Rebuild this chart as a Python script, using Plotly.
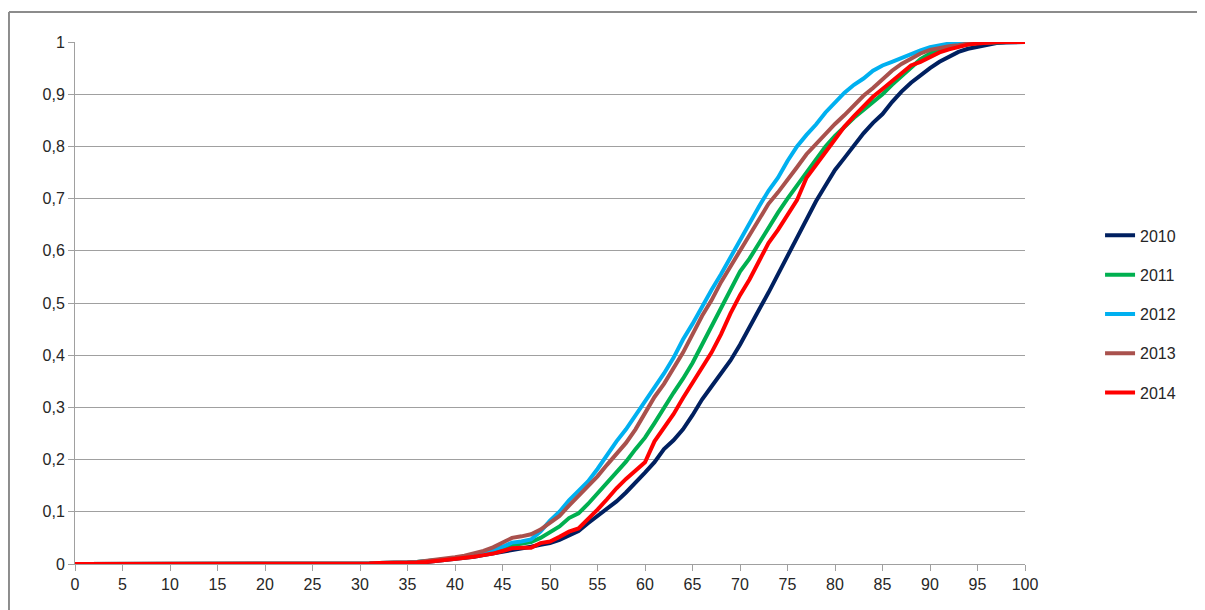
import plotly.graph_objects as go

x_values = list(range(0, 101))

y_2010 = [0, 0, 0, 0, 0, 0, 0, 0, 0, 0,
          0, 0, 0, 0, 0, 0, 0, 0, 0, 0,
          0, 0, 0, 0, 0, 0, 0, 0, 0, 0, 0,
          0.001, 0.002, 0.002, 0.002, 0.003, 0.003, 0.004, 0.006, 0.007, 0.009,
          0.011, 0.014, 0.017, 0.02, 0.024, 0.027, 0.03, 0.033, 0.037, 0.04,
          0.046, 0.055, 0.063, 0.078, 0.092, 0.105, 0.12, 0.137, 0.155, 0.175,
          0.195, 0.22, 0.237, 0.258, 0.285, 0.315, 0.34, 0.365, 0.39, 0.42,
          0.455, 0.487, 0.52, 0.555, 0.59, 0.625, 0.66, 0.695, 0.725, 0.755,
          0.778, 0.803, 0.825, 0.845, 0.862, 0.885, 0.905, 0.922, 0.937, 0.95,
          0.962, 0.972, 0.981, 0.987, 0.991, 0.995, 0.998, 0.999, 1, 1]

y_2011 = [0, 0, 0, 0, 0, 0, 0, 0, 0, 0,
          0, 0, 0, 0, 0, 0, 0, 0, 0, 0,
          0, 0, 0, 0, 0, 0, 0, 0, 0, 0, 0,
          0.001, 0.002, 0.002, 0.003, 0.003, 0.004, 0.005, 0.007, 0.009, 0.011,
          0.013, 0.017, 0.021, 0.026, 0.03, 0.036, 0.039, 0.042, 0.05, 0.06,
          0.072, 0.088, 0.097, 0.115, 0.135, 0.155, 0.175, 0.196, 0.22, 0.242,
          0.27, 0.3, 0.328, 0.355, 0.385, 0.42, 0.455, 0.49, 0.525, 0.56,
          0.585, 0.615, 0.645, 0.673, 0.7, 0.725, 0.752, 0.775, 0.8, 0.82,
          0.838, 0.855, 0.87, 0.885, 0.9, 0.918, 0.935, 0.95, 0.967, 0.978,
          0.986, 0.99, 0.993, 0.996, 0.998, 0.999, 1, 1, 1, 1]

y_2012 = [0, 0, 0, 0, 0, 0, 0, 0, 0, 0,
          0, 0, 0, 0, 0, 0, 0, 0, 0, 0,
          0, 0, 0, 0, 0, 0, 0, 0, 0, 0, 0,
          0.001, 0.002, 0.002, 0.003, 0.003, 0.004, 0.005, 0.007, 0.009, 0.011,
          0.014, 0.018, 0.022, 0.027, 0.033, 0.041, 0.043, 0.047, 0.062, 0.083,
          0.1, 0.122, 0.14, 0.158, 0.182, 0.21, 0.235, 0.258, 0.285, 0.31,
          0.34, 0.365, 0.395, 0.43, 0.46, 0.493, 0.525, 0.555, 0.588, 0.62,
          0.652, 0.685, 0.715, 0.74, 0.772, 0.8, 0.822, 0.842, 0.865, 0.885,
          0.903, 0.918, 0.93, 0.945, 0.955, 0.962, 0.97, 0.978, 0.984, 0.99,
          0.994, 0.997, 0.998, 0.999, 1, 1, 1, 1, 1, 1]

y_2013 = [0, 0, 0, 0, 0, 0, 0, 0, 0, 0,
          0, 0, 0, 0, 0, 0, 0, 0, 0, 0,
          0, 0, 0, 0, 0, 0, 0, 0, 0, 0, 0,
          0.001, 0.002, 0.002, 0.003, 0.003, 0.004, 0.006, 0.008, 0.01, 0.013,
          0.016, 0.021, 0.025, 0.032, 0.042, 0.05, 0.053, 0.057, 0.066, 0.078,
          0.092, 0.112, 0.13, 0.148, 0.168, 0.19, 0.212, 0.232, 0.258, 0.29,
          0.32, 0.345, 0.375, 0.405, 0.44, 0.475, 0.505, 0.54, 0.57, 0.6,
          0.63, 0.66, 0.69, 0.712, 0.735, 0.76, 0.785, 0.805, 0.825, 0.843,
          0.86, 0.878, 0.897, 0.912, 0.928, 0.945, 0.958, 0.968, 0.978, 0.985,
          0.989, 0.992, 0.994, 0.997, 0.998, 0.999, 1, 1, 1, 1]

y_2014 = [0, 0, 0, 0, 0, 0, 0, 0, 0, 0,
          0, 0, 0, 0, 0, 0, 0, 0, 0, 0,
          0, 0, 0, 0, 0, 0, 0, 0, 0, 0, 0,
          0.001, 0.002, 0.002, 0.002, 0.003, 0.003, 0.004, 0.006, 0.007, 0.009,
          0.011, 0.014, 0.017, 0.02, 0.025, 0.03, 0.031, 0.031, 0.04, 0.043,
          0.052, 0.062, 0.068, 0.085, 0.104, 0.124, 0.145, 0.163, 0.18, 0.195,
          0.235, 0.26, 0.287, 0.318, 0.348, 0.375, 0.405, 0.44, 0.48, 0.515,
          0.545, 0.58, 0.615, 0.64, 0.667, 0.697, 0.74, 0.765, 0.79, 0.815,
          0.838, 0.858, 0.876, 0.895, 0.91, 0.925, 0.942, 0.955, 0.962, 0.972,
          0.98, 0.986, 0.991, 0.995, 0.997, 0.999, 1, 1, 1, 1]

series_names = ["2010", "2011", "2012", "2013", "2014"]
series_values = [y_2010, y_2011, y_2012, y_2013, y_2014]
series_colors = ["#002060", "#00B050", "#00B0F0", "#A9514D", "#FF0000"]

x_tick_values = list(range(0, 101, 5))
y_tick_values = [0, 0.1, 0.2, 0.3, 0.4, 0.5, 0.6, 0.7, 0.8, 0.9, 1]

fig = go.Figure()
for name, vals, col in zip(series_names, series_values, series_colors):
    fig.add_trace(go.Scatter(
        x=x_values, y=vals, mode="lines", name=name,
        legendgroup=name,
        line=dict(color=col, width=4),
    ))

axis_gray = "#A0A0A0"
font_color = "#262626"
frame_color = "#8C8C8C"

fig.update_layout(
    width=1197, height=602,
    margin=dict(l=67, r=180, t=34, b=46),
    paper_bgcolor="white", plot_bgcolor="white",
    separators=", ",
    font=dict(family="Liberation Sans, Arial, sans-serif", size=16, color=font_color),
    showlegend=True,
    legend=dict(
        x=1.079, y=0.662, xanchor="left", yanchor="top",
        font=dict(size=16, color=font_color),
        tracegroupgap=15.5,
        bgcolor="rgba(0,0,0,0)",
    ),
    xaxis=dict(
        range=[0, 100], tickvals=x_tick_values,
        showgrid=False, zeroline=False,
        showline=True, linecolor=axis_gray, linewidth=1,
        ticks="outside", ticklen=6, tickcolor=axis_gray, tickwidth=1,
        tickfont=dict(size=16, color=font_color),
    ),
    yaxis=dict(
        range=[0, 1], tickvals=y_tick_values,
        showgrid=True, gridcolor=axis_gray, gridwidth=1,
        zeroline=False,
        showline=True, linecolor=axis_gray, linewidth=1,
        ticks="outside", ticklen=6, tickcolor=axis_gray, tickwidth=1,
        tickfont=dict(size=16, color=font_color),
    ),
    shapes=[
        dict(type="line", xref="paper", yref="paper",
             x0=-0.0695, x1=1.3, y0=1.0575, y1=1.0575,
             line=dict(color=frame_color, width=2), layer="below"),
        dict(type="line", xref="paper", yref="paper",
             x0=-0.0695, x1=-0.0695, y0=-0.2, y1=1.0575,
             line=dict(color=frame_color, width=2), layer="below"),
    ],
)

fig.write_html("out.html")
